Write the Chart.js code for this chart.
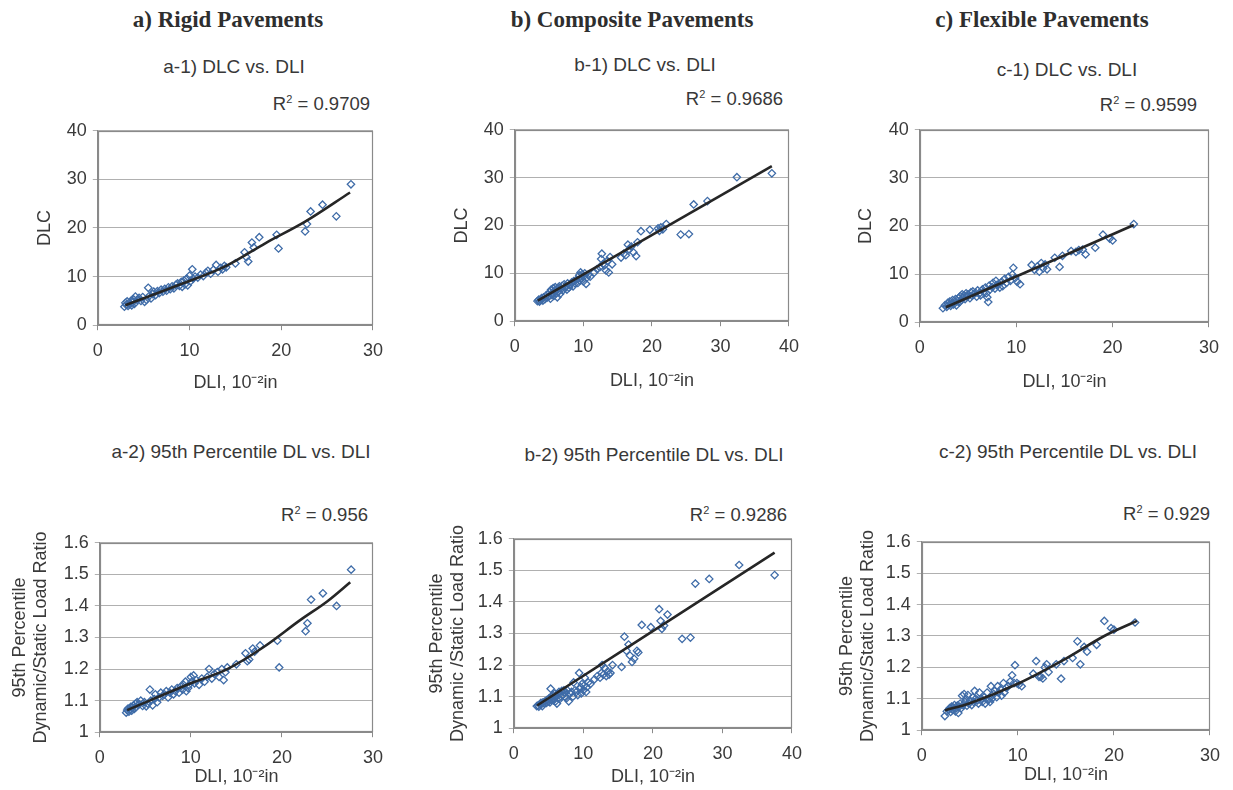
<!DOCTYPE html>
<html>
<head>
<meta charset="utf-8">
<script src="https://cdn.jsdelivr.net/npm/chart.js@4.4.0/dist/chart.umd.min.js"></script>
<style>
  body { margin: 0; background: #fff; }
  #fig { position: relative; width: 1233px; height: 790px; overflow: hidden;
         font-family: "Liberation Sans", Arial, sans-serif; color: #383838; }
  .hdr { position: absolute; transform: translate(-50%, -50%); white-space: nowrap;
         font: bold 23px "Liberation Serif", "Times New Roman", serif; color: #2e2e2e; }
  .sub { position: absolute; transform: translate(-50%, -50%); white-space: nowrap; font-size: 19px; }
  .r2  { position: absolute; transform: translate(-100%, -50%); white-space: nowrap; font-size: 18.5px; }
  .r2 sup { font-size: 11px; vertical-align: 7px; }
  canvas { position: absolute; }
</style>
</head>
<body>
<div id="fig">
  <div class="hdr" style="left:228px;top:20px">a) Rigid Pavements</div>
  <div class="hdr" style="left:632px;top:20px">b) Composite Pavements</div>
  <div class="hdr" style="left:1042px;top:20px">c) Flexible Pavements</div>

  <div class="sub" style="left:234px;top:67px">a-1) DLC vs. DLI</div>
  <div class="sub" style="left:645px;top:65px">b-1) DLC vs. DLI</div>
  <div class="sub" style="left:1067px;top:70px">c-1) DLC vs. DLI</div>
  <div class="sub" style="left:241px;top:452px">a-2) 95th Percentile DL vs. DLI</div>
  <div class="sub" style="left:654px;top:455px">b-2) 95th Percentile DL vs. DLI</div>
  <div class="sub" style="left:1068px;top:452px">c-2) 95th Percentile DL vs. DLI</div>

  <div class="r2" style="left:370px;top:104px">R<sup>2</sup> = 0.9709</div>
  <div class="r2" style="left:783px;top:99px">R<sup>2</sup> = 0.9686</div>
  <div class="r2" style="left:1197px;top:105px">R<sup>2</sup> = 0.9599</div>
  <div class="r2" style="left:368px;top:515px">R<sup>2</sup> = 0.956</div>
  <div class="r2" style="left:787px;top:515px">R<sup>2</sup> = 0.9286</div>
  <div class="r2" style="left:1210px;top:514px">R<sup>2</sup> = 0.929</div>

  <canvas id="a1"></canvas><canvas id="b1"></canvas><canvas id="c1"></canvas>
  <canvas id="a2"></canvas><canvas id="b2"></canvas><canvas id="c2"></canvas>
</div>
<script>
// rigid pavements
var aDLI = [2.9, 3.0, 3.1, 3.2, 3.3, 3.4, 3.5, 3.6, 3.7, 3.8, 3.9, 4.0, 4.1, 4.3, 4.5, 4.7, 4.9, 5.1, 5.3, 5.5,
  5.6, 5.8, 6.0, 6.1, 6.3, 6.5, 6.7, 6.9, 7.1, 7.3, 7.5, 7.7, 7.9, 8.1, 8.3, 8.5, 8.7, 8.9, 9.1, 9.2,
  9.4, 9.5, 9.7, 9.8, 10.0, 10.1, 10.3, 10.4, 10.6, 10.9, 11.2, 11.5, 11.8, 12.0, 12.3, 12.6, 12.9, 13.1, 13.4, 13.6,
  13.8, 14.0, 15.0, 16.0, 16.2, 16.4, 16.8, 17.0, 17.6, 19.5, 19.7, 22.6, 22.8, 23.2, 24.5, 26.0, 27.6];
var aDLC = [3.8, 4.6, 4.2, 4.9, 4.0, 4.5, 4.3, 5.0, 4.1, 4.7, 5.3, 4.4, 5.9, 5.2, 5.6, 5.0, 5.8, 4.8, 5.2, 7.7,
  6.0, 5.5, 6.4, 6.9, 6.2, 7.0, 6.6, 7.3, 6.9, 7.5, 7.1, 7.8, 7.4, 8.0, 7.6, 8.3, 8.6, 8.1, 8.9, 7.9,
  9.2, 8.4, 9.6, 8.2, 10.2, 9.0, 11.5, 9.6, 10.0, 9.8, 10.4, 10.1, 10.8, 11.2, 10.6, 11.4, 12.4, 11.0, 11.8, 11.5,
  12.2, 11.9, 12.7, 15.0, 14.0, 13.1, 17.0, 16.0, 18.1, 18.6, 15.8, 19.3, 20.8, 23.4, 24.8, 22.4, 29.0];
var aRatio = [1.062, 1.07, 1.075, 1.065, 1.072, 1.08, 1.068, 1.078, 1.085, 1.074, 1.09, 1.08, 1.095, 1.088, 1.1, 1.083, 1.095, 1.082, 1.09, 1.135,
  1.1, 1.085, 1.105, 1.12, 1.095, 1.11, 1.125, 1.115, 1.12, 1.13, 1.11, 1.125, 1.135, 1.12, 1.13, 1.14, 1.125, 1.145, 1.135, 1.15,
  1.16, 1.13, 1.14, 1.15, 1.175, 1.16, 1.18, 1.155, 1.165, 1.15, 1.17, 1.16, 1.175, 1.2, 1.17, 1.185, 1.19, 1.175, 1.2, 1.165,
  1.19, 1.205, 1.215, 1.25, 1.225, 1.23, 1.265, 1.255, 1.275, 1.29, 1.205, 1.32, 1.345, 1.42, 1.44, 1.40, 1.515];
var aFitDLI = [3, 8.6, 14, 18.3, 22.6, 27.5];
var aFitDLC = [4.1, 8.1, 12.2, 16.9, 21.3, 27.3];
var aFitRatioDLI = [3, 10, 14, 18, 22, 25, 27.5];
var aFitRatio = [1.07, 1.155, 1.2, 1.27, 1.355, 1.415, 1.475];

// composite pavements
var bDLI = [3.3, 3.5, 3.6, 3.8, 3.9, 4.1, 4.2, 4.4, 4.5, 4.7, 4.8, 5.0, 5.1, 5.2, 5.3, 5.4, 5.5, 5.6, 5.7, 5.8,
  5.9, 6.0, 6.1, 6.2, 6.3, 6.4, 6.5, 6.6, 6.8, 6.9, 7.0, 7.2, 7.3, 7.4, 7.6, 7.7, 7.9, 8.1, 8.3, 8.5,
  8.6, 8.8, 9.0, 9.2, 9.4, 9.5, 9.6, 9.7, 9.8, 10.0, 10.1, 10.2, 10.4, 10.5, 10.7, 11.0, 11.6, 12.0, 12.4, 12.6,
  12.7, 12.9, 13.1, 13.3, 13.5, 13.7, 13.9, 14.2, 15.5, 15.9, 16.2, 16.5, 16.7, 17.0, 17.3, 17.7, 17.9, 18.4, 19.7, 20.9,
  21.1, 21.3, 21.6, 22.1, 24.2, 25.4, 26.1, 28.1, 32.4, 37.5];
var bDLC = [4.2, 4.5, 4.1, 4.4, 4.8, 4.3, 5.0, 4.6, 5.3, 4.9, 5.6, 5.2, 6.1, 4.7, 6.6, 5.5, 5.9, 6.9, 5.3, 6.4,
  7.1, 5.8, 6.5, 5.0, 6.9, 6.2, 7.3, 5.7, 6.8, 7.4, 6.4, 7.7, 6.9, 7.2, 6.6, 7.9, 7.0, 7.6, 8.1, 7.3,
  8.4, 7.9, 8.7, 8.0, 9.6, 8.5, 10.2, 9.0, 9.8, 8.3, 9.4, 10.0, 7.8, 9.1, 9.7, 9.3, 10.2, 10.9, 11.3, 13.0,
  14.1, 12.0, 11.7, 10.6, 12.6, 10.2, 13.4, 11.9, 13.3, 14.1, 13.8, 16.0, 15.0, 15.6, 14.4, 13.6, 16.5, 18.8, 19.1, 19.4,
  18.9, 19.6, 19.2, 20.3, 18.1, 18.2, 24.4, 25.1, 30.1, 30.9];
var bRatio = [1.07, 1.072, 1.068, 1.075, 1.08, 1.07, 1.082, 1.078, 1.085, 1.08, 1.09, 1.085, 1.095, 1.082, 1.125, 1.09, 1.1, 1.105, 1.088, 1.095,
  1.11, 1.085, 1.1, 1.078, 1.108, 1.095, 1.115, 1.092, 1.1, 1.118, 1.105, 1.12, 1.1, 1.112, 1.095, 1.12, 1.085, 1.11, 1.115, 1.1,
  1.145, 1.12, 1.115, 1.105, 1.175, 1.125, 1.13, 1.11, 1.14, 1.12, 1.135, 1.16, 1.115, 1.13, 1.145, 1.14, 1.155, 1.165, 1.16, 1.175,
  1.2, 1.17, 1.19, 1.165, 1.18, 1.17, 1.175, 1.2, 1.194, 1.29, 1.245, 1.265, 1.23, 1.21, 1.22, 1.245, 1.24, 1.327, 1.32, 1.377,
  1.34, 1.315, 1.325, 1.36, 1.283, 1.287, 1.458, 1.473, 1.517, 1.485];
var bFitDLI = [3.35, 37.5];
var bFitDLC = [4.3, 32.4];
var bFitRatio = [1.072, 1.556];

// flexible pavements
var cDLI = [2.4, 2.6, 2.8, 2.9, 3.0, 3.1, 3.2, 3.3, 3.4, 3.5, 3.6, 3.7, 3.8, 3.9, 4.0, 4.1, 4.2, 4.3, 4.4, 4.5,
  4.6, 4.7, 4.8, 4.9, 5.0, 5.2, 5.3, 5.4, 5.5, 5.6, 5.8, 5.9, 6.0, 6.2, 6.3, 6.5, 6.6, 6.8, 6.9, 7.0,
  7.1, 7.2, 7.3, 7.5, 7.6, 7.8, 7.9, 8.0, 8.2, 8.3, 8.5, 8.6, 8.8, 9.0, 9.2, 9.4, 9.6, 9.7, 9.9, 10.1,
  10.4, 11.6, 11.9, 12.2, 12.4, 12.6, 12.8, 13.0, 13.2, 14.0, 14.5, 14.8, 15.7, 16.2, 16.5, 16.9, 17.2, 18.2, 19.0, 19.7,
  20.0, 22.2];
var cDLC = [2.9, 3.5, 3.2, 4.0, 3.6, 4.3, 3.4, 3.9, 4.6, 3.7, 4.2, 4.8, 3.5, 4.4, 5.0, 4.1, 5.4, 4.6, 5.8, 5.1,
  5.6, 4.8, 6.0, 5.3, 5.8, 5.0, 6.2, 5.5, 6.4, 5.8, 6.1, 5.3, 6.6, 6.0, 5.6, 6.8, 6.3, 7.2, 6.0, 5.2,
  4.2, 7.6, 6.8, 7.3, 8.2, 7.0, 8.6, 7.7, 8.0, 7.2, 8.4, 7.5, 9.0, 8.2, 9.4, 8.6, 9.9, 11.3, 9.2, 8.4,
  7.9, 11.9, 10.9, 11.6, 10.5, 12.3, 11.2, 12.0, 11.0, 13.4, 11.5, 13.8, 14.8, 14.6, 15.0, 15.1, 14.1, 15.5, 18.2, 17.4,
  17.0, 20.4];
var cRatio = [1.045, 1.06, 1.065, 1.07, 1.058, 1.075, 1.065, 1.072, 1.08, 1.06, 1.07, 1.078, 1.055, 1.075, 1.085, 1.07, 1.11, 1.08, 1.115, 1.09,
  1.1, 1.078, 1.112, 1.085, 1.095, 1.08, 1.105, 1.09, 1.125, 1.1, 1.095, 1.085, 1.12, 1.1, 1.09, 1.105, 1.085, 1.12, 1.095, 1.1,
  1.09, 1.14, 1.1, 1.115, 1.125, 1.105, 1.14, 1.12, 1.13, 1.11, 1.15, 1.12, 1.135, 1.14, 1.155, 1.175, 1.15, 1.207, 1.15, 1.145,
  1.14, 1.18, 1.22, 1.17, 1.17, 1.165, 1.2, 1.21, 1.185, 1.21, 1.164, 1.22, 1.23, 1.283, 1.21, 1.265, 1.25, 1.272, 1.348, 1.325,
  1.32, 1.343];
var cFitDLI = [2.7, 22.2];
var cFitDLC = [3.1, 20.2];
var cFitRatioDLI = [2.4, 5, 10, 15, 19, 22.4];
var cFitRatio = [1.063, 1.086, 1.148, 1.228, 1.3, 1.348];

// axis ticks
var dliTicks30 = [0, 10, 20, 30];
var dliTicks40 = [0, 10, 20, 30, 40];
var dlcTicks = [0, 10, 20, 30, 40];
var ratioTicks = [1, 1.1, 1.2, 1.3, 1.4, 1.5, 1.6];

var dliTitle = "DLI, 10\u207B\u00B2in";
var ratioTitle = ["95th Percentile", "Dynamic/Static Load Ratio"];

function pts(xs, ys) {
  return xs.map(function (x, i) { return { x: x, y: ys[i] }; });
}

var frame = {
  id: "frame",
  beforeDatasetsDraw: function (chart) {
    var a = chart.chartArea, ctx = chart.ctx;
    ctx.save();
    ctx.strokeStyle = "#8a8a8a";
    ctx.lineWidth = 1.2;
    ctx.strokeRect(Math.round(a.left) + 0.5, Math.round(a.top) + 0.5, Math.round(a.width) - 1, Math.round(a.height) - 1);
    ctx.restore();
  }
};

var FS = 18, LH = FS * 1.2;

function plot(id, box, xs, ys, fitX, fitY, xTicks, yTicks, yTitle) {
  var padTop = 14, padRight = 16;
  var left = box.yTitleX - LH / 2;
  var yw = box.L - left;
  var xh = box.xTitleY - box.B + LH / 2;
  var cv = document.getElementById(id);
  cv.width = Math.round(yw + (box.R - box.L) + padRight);
  cv.height = Math.round(padTop + (box.B - box.T) + xh);
  cv.style.left = left + "px";
  cv.style.top = (box.T - padTop) + "px";

  new Chart(cv, {
    type: "scatter",
    data: {
      datasets: [
        {
          type: "line",
          data: pts(fitX, fitY),
          borderColor: "#262626",
          borderWidth: 2.6,
          pointRadius: 0,
          cubicInterpolationMode: "monotone",
          fill: false
        },
        {
          data: pts(xs, ys),
          pointStyle: "rectRot",
          pointRadius: 3.7,
          borderColor: "#3f6ca8",
          backgroundColor: "rgba(255,255,255,0)",
          borderWidth: 1.3
        }
      ]
    },
    options: {
      responsive: false,
      animation: false,
      events: [],
      layout: { padding: { top: padTop, right: padRight, left: 0, bottom: 0 } },
      plugins: { legend: { display: false }, tooltip: { enabled: false } },
      scales: {
        x: {
          type: "linear",
          min: xTicks[0],
          max: xTicks[xTicks.length - 1],
          afterBuildTicks: function (s) { s.ticks = xTicks.map(function (v) { return { value: v }; }); },
          afterFit: function (s) { s.height = xh; },
          grid: { drawOnChartArea: false, tickLength: 5, color: "#8a8a8a" },
          border: { color: "#8a8a8a" },
          ticks: { padding: 10, color: "#3a3a3a", font: { size: FS, lineHeight: 1.2 },
                   callback: function (v) { return String(v); } },
          title: { display: true, text: dliTitle, color: "#3a3a3a", padding: 0, font: { size: FS, lineHeight: 1.2 } }
        },
        y: {
          min: yTicks[0],
          max: yTicks[yTicks.length - 1],
          afterBuildTicks: function (s) { s.ticks = yTicks.map(function (v) { return { value: v }; }); },
          afterFit: function (s) { s.width = yw; },
          grid: { color: "#b0b0b0", tickLength: 5 },
          border: { color: "#8a8a8a" },
          ticks: { padding: 6, color: "#3a3a3a", font: { size: FS, lineHeight: 1.2 },
                   callback: function (v) { return String(v); } },
          title: { display: true, text: yTitle, color: "#3a3a3a", padding: 0, font: { size: FS, lineHeight: 1.2 } }
        }
      }
    },
    plugins: [frame]
  });
}

plot("a1", { L: 98, R: 377, T: 128, B: 325, yTitleX: 45, xTitleY: 383 }, aDLI, aDLC, aFitDLI, aFitDLC, dliTicks30, dlcTicks, "DLC");
plot("b1", { L: 515, R: 793, T: 127, B: 321, yTitleX: 462, xTitleY: 381 }, bDLI, bDLC, bFitDLI, bFitDLC, dliTicks40, dlcTicks, "DLC");
plot("c1", { L: 920, R: 1213, T: 127, B: 322, yTitleX: 866, xTitleY: 382 }, cDLI, cDLC, cFitDLI, cFitDLC, dliTicks30, dlcTicks, "DLC");
plot("a2", { L: 100, R: 377, T: 540, B: 732, yTitleX: 20, xTitleY: 777 }, aDLI, aRatio, aFitRatioDLI, aFitRatio, dliTicks30, ratioTicks, ratioTitle);
plot("b2", { L: 514, R: 796, T: 536, B: 728, yTitleX: 437, xTitleY: 777 }, bDLI, bRatio, bFitDLI, bFitRatio, dliTicks40, ratioTicks,
  ["95th Percentile", "Dynamic /Static Load Ratio"]);
plot("c2", { L: 922, R: 1214, T: 539, B: 730, yTitleX: 847, xTitleY: 775 }, cDLI, cRatio, cFitRatioDLI, cFitRatio, dliTicks30, ratioTicks, ratioTitle);
</script>
</body>
</html>
